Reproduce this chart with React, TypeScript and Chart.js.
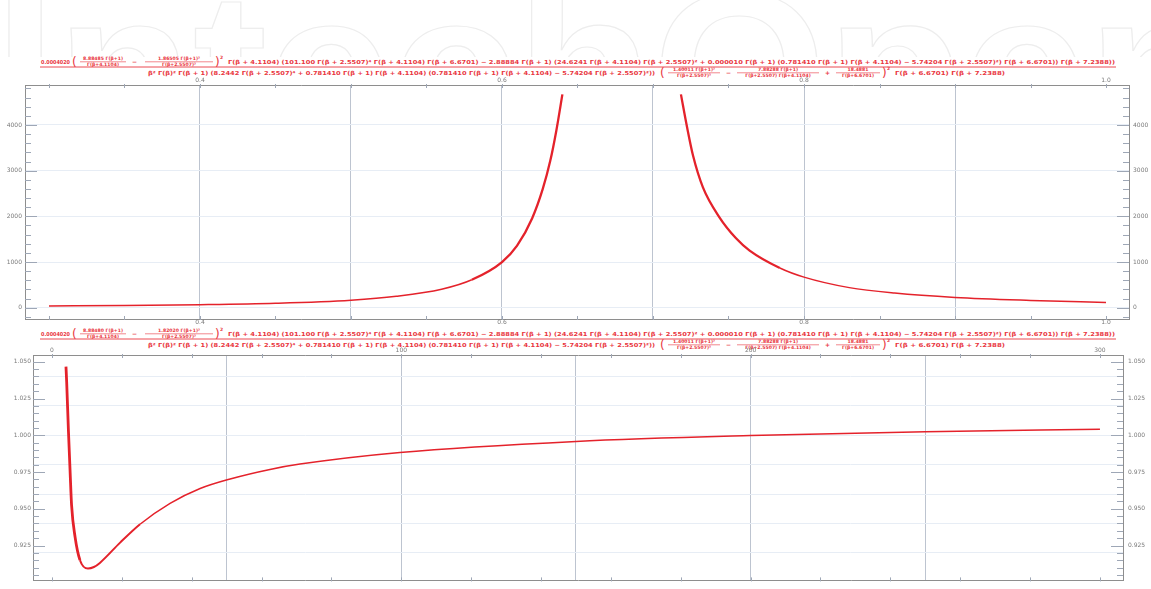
import React, { useEffect, useRef } from "react";
import { Chart, registerables } from "chart.js";

Chart.register(...registerables);

const W = 1151;
const H = 589;

// ---------------- Top plot data ----------------
const topLeftX = [0.30, 0.35, 0.40, 0.45, 0.50, 0.53, 0.56, 0.58, 0.60, 0.61, 0.62, 0.627, 0.632, 0.636, 0.640];
const topLeftY = [38, 48, 66, 98, 165, 250, 405, 612, 1000, 1360, 1960, 2600, 3220, 3880, 4670];
const topRightX = [0.7185, 0.7225, 0.7265, 0.733, 0.744, 0.755, 0.764, 0.784, 0.80, 0.83, 0.86, 0.90, 0.95, 1.00];
const topRightY = [4670, 3960, 3330, 2640, 1980, 1520, 1250, 870, 670, 440, 320, 225, 160, 115];

const TOP_X_LABELS = [0.4, 0.6, 0.8, 1.0];
const TOP_X_GRID = [0.4, 0.5, 0.6, 0.7, 0.8, 0.9];
const TOP_X_MARKS = [0.3, 0.35, 0.4, 0.45, 0.5, 0.55, 0.6, 0.65, 0.7, 0.75, 0.8, 0.85, 0.9, 0.95, 1.0];
const TOP_Y_LABELS = [0, 1000, 2000, 3000, 4000];
const TOP_Y_MINOR = [-200, 200, 400, 600, 800, 1200, 1400, 1600, 1800, 2200, 2400, 2600, 2800, 3200, 3400, 3600, 3800, 4200, 4400, 4600, 4800];

// ---------------- Bottom plot data ----------------
const botX = [4.0, 4.2, 4.7, 5.2, 5.6, 6.6, 8.0, 10.3, 12.0, 13.7, 19.5, 25.2, 33.8, 42.4, 51.0, 62.4, 71.0, 99.6, 150, 200, 250, 300];
const botY = [1.0467, 1.0362, 1.0033, 0.9743, 0.9526, 0.9309, 0.9151, 0.9094, 0.9104, 0.9132, 0.9270, 0.9395, 0.9537, 0.9638, 0.9703, 0.9768, 0.9804, 0.9883, 0.9958, 0.9998, 1.0024, 1.0041];

const BOT_X_LABELS = [0, 100, 200, 300];
const BOT_X_GRID = [50, 100, 150, 200, 250];
const BOT_X_MARKS = [0, 20, 40, 60, 80, 100, 120, 140, 160, 180, 200, 220, 240, 260, 280, 300];
const BOT_Y_LABELS = [0.925, 0.95, 0.975, 1.0, 1.025, 1.05];
const BOT_Y_GRID = [0.92, 0.94, 0.96, 0.98, 1.0, 1.02, 1.04];
const BOT_Y_MINOR = [0.905, 0.91, 0.915, 0.92, 0.93, 0.935, 0.94, 0.945, 0.955, 0.96, 0.965, 0.97, 0.98, 0.985, 0.99, 0.995, 1.005, 1.01, 1.015, 1.02, 1.03, 1.035, 1.04, 1.045];

// ---------------- Formula texts ----------------
const WATERMARK = "IntechOpen";

const TOP_NUM_COEF = "0.0004020";
const TOP_NUM_FRACS = [
  ["8.88485 Γ(β+1)", "Γ(β+4.1104)"],
  ["1.86505 Γ(β+1)²", "Γ(β+2.5507)²"],
];
const TOP_NUM_REST =
  "Γ(β + 4.1104) (101.100 Γ(β + 2.5507)⁴ Γ(β + 4.1104) Γ(β + 6.6701) − 2.88884 Γ(β + 1) (24.6241 Γ(β + 4.1104) Γ(β + 2.5507)² + 0.000010 Γ(β + 1) (0.781410 Γ(β + 1) Γ(β + 4.1104) − 5.74204 Γ(β + 2.5507)²) Γ(β + 6.6701)) Γ(β + 7.2388))";
const TOP_DEN_HEAD =
  "β² Γ(β)² Γ(β + 1) (8.2442 Γ(β + 2.5507)⁴ + 0.781410 Γ(β + 1) Γ(β + 4.1104) (0.781410 Γ(β + 1) Γ(β + 4.1104) − 5.74204 Γ(β + 2.5507)²))";
const TOP_DEN_FRACS = [
  ["1.40011 Γ(β+1)²", "Γ(β+2.5507)³"],
  ["7.88288 Γ(β+1)", "Γ(β+2.5507) Γ(β+4.1104)"],
  ["18.4881", "Γ(β+6.6701)"],
];
const TOP_DEN_TAIL = "Γ(β + 6.6701) Γ(β + 7.2388)";

const BOT_NUM_COEF = "0.0004020";
const BOT_NUM_FRACS = [
  ["8.88480 Γ(β+1)", "Γ(β+4.1104)"],
  ["1.82020 Γ(β+1)²", "Γ(β+2.5507)²"],
];
const BOT_NUM_REST =
  "Γ(β + 4.1104) (101.100 Γ(β + 2.5507)⁴ Γ(β + 4.1104) Γ(β + 6.6701) − 2.88884 Γ(β + 1) (24.6241 Γ(β + 4.1104) Γ(β + 2.5507)² + 0.000010 Γ(β + 1) (0.781410 Γ(β + 1) Γ(β + 4.1104) − 5.74204 Γ(β + 2.5507)²) Γ(β + 6.6701)) Γ(β + 7.2388))";
const BOT_DEN_HEAD =
  "β² Γ(β)² Γ(β + 1) (8.2442 Γ(β + 2.5507)⁴ + 0.781410 Γ(β + 1) Γ(β + 4.1104) (0.781410 Γ(β + 1) Γ(β + 4.1104) − 5.74204 Γ(β + 2.5507)²))";
const BOT_DEN_FRACS = [
  ["1.40011 Γ(β+1)²", "Γ(β+2.5507)³"],
  ["7.88288 Γ(β+1)", "Γ(β+2.5507) Γ(β+4.1104)"],
  ["18.4881", "Γ(β+6.6701)"],
];
const BOT_DEN_TAIL = "Γ(β + 6.6701) Γ(β + 7.2388)";

// ---------------- Styles ----------------
const RED = "#e4222b";
const TEXT_RED = "#e9363e";
const FRAME = "#8e8e8e";
const V_GRID = "#bdc4d0";
const H_GRID = "#e7edf5";
const TICK = "#9ea7b6";
const LABEL = "#7a7a7a";
const FONT = { family: "'DejaVu Sans', sans-serif", size: 6 };

const innerTicks = {
  id: "innerTicks",
  afterDraw(chart: any, _a: any, o: any) {
    const { ctx, chartArea: a } = chart;
    const sx = chart.scales.x;
    const sy = chart.scales.y;
    ctx.save();
    ctx.strokeStyle = o.color;
    ctx.lineWidth = 1;
    ctx.beginPath();
    (o.xMarks as number[]).forEach((v) => {
      const px = Math.round(sx.getPixelForValue(v)) + 0.5;
      ctx.moveTo(px, a.top - 1);
      ctx.lineTo(px, a.top + o.xLen);
      ctx.moveTo(px, a.bottom + 1);
      ctx.lineTo(px, a.bottom - o.xLen);
    });
    const h = (v: number, len: number) => {
      const py = Math.round(sy.getPixelForValue(v)) + 0.5;
      ctx.moveTo(a.left, py);
      ctx.lineTo(a.left + len, py);
      ctx.moveTo(a.right, py);
      ctx.lineTo(a.right - len, py);
    };
    (o.yMajor as number[]).forEach((v) => h(v, o.majorLen));
    (o.yMinor as number[]).forEach((v) => h(v, o.minorLen));
    ctx.stroke();
    ctx.restore();
  },
};

const tickObjs = (vals: number[]) => vals.map((v) => ({ value: v }));
const has = (arr: number[], v: any) => arr.some((a) => Math.abs(a - Number(v)) < 1e-9);

type PanelProps = {
  top: number;
  height: number;
  datasets: any[];
  xMin: number;
  xMax: number;
  yMin: number;
  yMax: number;
  leftW: number;
  rightW: number;
  topH: number;
  bottomH: number;
  leftPad: number;
  rightPad: number;
  xLabels: number[];
  xGrid: number[];
  xMarks: number[];
  showBottomLabels: boolean;
  yLabels: number[];
  yGrid: number[];
  yMinor: number[];
  xFmt: (v: number) => string;
  yFmt: (v: number) => string;
};

function Panel(p: PanelProps) {
  const ref = useRef<HTMLCanvasElement>(null);
  useEffect(() => {
    const xBottomTicks = Array.from(
      new Set([...p.xGrid, ...(p.showBottomLabels ? p.xLabels : [])])
    ).sort((a, b) => a - b);
    const border = { display: true, color: FRAME, width: 1 };
    const chart = new Chart(ref.current as HTMLCanvasElement, {
      type: "line",
      data: { datasets: p.datasets },
      options: {
        animation: false,
        responsive: false,
        events: [],
        layout: { padding: 0 },
        plugins: {
          legend: { display: false },
          tooltip: { enabled: false },
          innerTicks: {
            color: TICK,
            xMarks: p.xMarks,
            xLen: 3,
            yMajor: p.yLabels,
            yMinor: p.yMinor,
            majorLen: 12,
            minorLen: 6,
          },
        } as any,
        scales: {
          x: {
            type: "linear",
            position: "bottom",
            min: p.xMin,
            max: p.xMax,
            afterBuildTicks: (s: any) => {
              s.ticks = tickObjs(xBottomTicks);
            },
            afterFit: (s: any) => {
              s.height = p.bottomH;
            },
            grid: {
              color: (c: any) => (c.tick && has(p.xGrid, c.tick.value) ? V_GRID : "rgba(0,0,0,0)"),
              drawTicks: false,
              lineWidth: 1,
            },
            border,
            ticks: {
              display: p.showBottomLabels,
              autoSkip: false,
              maxRotation: 0,
              padding: 0,
              font: FONT,
              color: LABEL,
              callback: (v: any) => (has(p.xLabels, v) ? p.xFmt(Number(v)) : ""),
            },
          },
          xTop: {
            type: "linear",
            position: "top",
            min: p.xMin,
            max: p.xMax,
            afterBuildTicks: (s: any) => {
              s.ticks = tickObjs(p.xLabels);
            },
            afterFit: (s: any) => {
              s.height = p.topH;
            },
            grid: { drawOnChartArea: false, drawTicks: false },
            border,
            ticks: {
              autoSkip: false,
              maxRotation: 0,
              padding: 1,
              font: FONT,
              color: LABEL,
              callback: (v: any) => p.xFmt(Number(v)),
            },
          },
          y: {
            type: "linear",
            position: "left",
            min: p.yMin,
            max: p.yMax,
            afterBuildTicks: (s: any) => {
              s.ticks = tickObjs(p.yLabels);
            },
            afterFit: (s: any) => {
              s.width = p.leftW;
            },
            grid: { drawOnChartArea: false, drawTicks: false },
            border,
            ticks: {
              autoSkip: false,
              padding: p.leftPad,
              font: FONT,
              color: LABEL,
              callback: (v: any) => p.yFmt(Number(v)),
            },
          },
          yGrid: {
            type: "linear",
            position: "left",
            min: p.yMin,
            max: p.yMax,
            afterBuildTicks: (s: any) => {
              s.ticks = tickObjs(p.yGrid);
            },
            afterFit: (s: any) => {
              s.width = 0;
            },
            grid: { color: H_GRID, drawTicks: false, lineWidth: 1 },
            border: { display: false },
            ticks: { display: false },
          },
          yRight: {
            type: "linear",
            position: "right",
            min: p.yMin,
            max: p.yMax,
            afterBuildTicks: (s: any) => {
              s.ticks = tickObjs(p.yLabels);
            },
            afterFit: (s: any) => {
              s.width = p.rightW;
            },
            grid: { drawOnChartArea: false, drawTicks: false },
            border,
            ticks: {
              autoSkip: false,
              padding: p.rightPad,
              font: FONT,
              color: LABEL,
              callback: (v: any) => p.yFmt(Number(v)),
            },
          },
        } as any,
      },
      plugins: [innerTicks as any],
    });
    return () => chart.destroy();
  }, []);
  return (
    <canvas
      ref={ref}
      width={W}
      height={p.height}
      style={{ position: "absolute", left: 0, top: p.top, width: W, height: p.height }}
    />
  );
}

const pts = (xs: number[], ys: number[]) => xs.map((x, i) => ({ x, y: ys[i] }));

const topDatasets = [
  {
    data: pts(topLeftX, topLeftY),
    xAxisID: "x",
    yAxisID: "y",
    borderColor: RED,
    borderWidth: 1.6,
    pointRadius: 0,
    cubicInterpolationMode: "monotone",
    fill: false,
    segment: { borderWidth: (c: any) => (c.p1.parsed.y > 900 ? 2.3 : 1.5) },
  },
  {
    data: pts(topRightX, topRightY),
    xAxisID: "x",
    yAxisID: "y",
    borderColor: RED,
    borderWidth: 1.6,
    pointRadius: 0,
    cubicInterpolationMode: "monotone",
    fill: false,
    segment: { borderWidth: (c: any) => (c.p0.parsed.y > 900 ? 2.3 : 1.5) },
  },
];

const botDatasets = [
  {
    data: pts(botX, botY),
    xAxisID: "x",
    yAxisID: "y",
    borderColor: RED,
    borderWidth: 1.6,
    pointRadius: 0,
    cubicInterpolationMode: "monotone",
    fill: false,
    segment: { borderWidth: (c: any) => (c.p0.parsed.x < 7 ? 2.8 : c.p0.parsed.x < 20 ? 2.0 : 1.5) },
  },
];

// ---------------- Formula (SVG text) ----------------
function Txt({ x, y, w, s = 5.5, children }: any) {
  return (
    <text x={x} y={y} fontSize={s} textLength={w} lengthAdjust="spacingAndGlyphs" dominantBaseline="central">
      {children}
    </text>
  );
}

function Frac({ x, w, y, top, bot }: any) {
  const cx = x + w / 2;
  return (
    <g>
      <text x={cx} y={y - 3.0} fontSize={4.6} textAnchor="middle" dominantBaseline="central">
        {top}
      </text>
      <line x1={x} x2={x + w} y1={y + 0.3} y2={y + 0.3} stroke={TEXT_RED} strokeWidth={0.6} />
      <text x={cx} y={y + 3.4} fontSize={4.6} textAnchor="middle" dominantBaseline="central">
        {bot}
      </text>
    </g>
  );
}

function Formula({ dy, coef, numFracs, numRest, denHead, denFracs, denTail }: any) {
  const yN = dy + 61.5;
  const yB = dy + 67;
  const yD = dy + 72.5;
  return (
    <g fill={TEXT_RED} fontFamily="'DejaVu Sans', sans-serif" fontWeight="bold">
      <Txt x={41} y={yN} w={29}>
        {coef}
      </Txt>
      <text x={72} y={yN} fontSize={12} dominantBaseline="central" fontWeight="normal">
        (
      </text>
      <Frac x={80} w={46} y={yN} top={numFracs[0][0]} bot={numFracs[0][1]} />
      <text x={132} y={yN} fontSize={6} dominantBaseline="central">
        −
      </text>
      <Frac x={145} w={68} y={yN} top={numFracs[1][0]} bot={numFracs[1][1]} />
      <text x={215} y={yN} fontSize={12} dominantBaseline="central" fontWeight="normal">
        )
      </text>
      <text x={220} y={yN - 4.5} fontSize={4.5} dominantBaseline="central">
        2
      </text>
      <Txt x={228} y={yN} w={887}>
        {numRest}
      </Txt>
      <line x1={40} x2={1116} y1={yB} y2={yB} stroke={TEXT_RED} strokeWidth={0.9} />
      <Txt x={148} y={yD} w={507}>
        {denHead}
      </Txt>
      <text x={660} y={yD} fontSize={12} dominantBaseline="central" fontWeight="normal">
        (
      </text>
      <Frac x={668} w={52} y={yD} top={denFracs[0][0]} bot={denFracs[0][1]} />
      <text x={726} y={yD} fontSize={6} dominantBaseline="central">
        −
      </text>
      <Frac x={737} w={82} y={yD} top={denFracs[1][0]} bot={denFracs[1][1]} />
      <text x={825} y={yD} fontSize={6} dominantBaseline="central">
        +
      </text>
      <Frac x={836} w={44} y={yD} top={denFracs[2][0]} bot={denFracs[2][1]} />
      <text x={882} y={yD} fontSize={12} dominantBaseline="central" fontWeight="normal">
        )
      </text>
      <text x={887} y={yD - 4.5} fontSize={4.5} dominantBaseline="central">
        2
      </text>
      <Txt x={895} y={yD} w={110}>
        {denTail}
      </Txt>
    </g>
  );
}

export default function App() {
  return (
    <div
      style={{
        position: "fixed",
        left: 0,
        top: 0,
        width: W,
        height: H,
        background: "#ffffff",
        overflow: "hidden",
      }}
    >
      <svg width={W} height={H} style={{ position: "absolute", left: 0, top: 0 }}>
        <defs>
          <clipPath id="wmclip">
            <rect x={0} y={0} width={W} height={57} />
          </clipPath>
        </defs>
        <g clipPath="url(#wmclip)">
          <text
            x={-6}
            y={140}
            fontSize={212}
            fontFamily="'Liberation Sans', Arial, sans-serif"
            fontWeight="bold"
            textLength={1230}
            lengthAdjust="spacingAndGlyphs"
            fill="none"
            stroke="#ededed"
            strokeWidth={1.2}
          >
            {WATERMARK}
          </text>
        </g>
        <Formula
          dy={0}
          coef={TOP_NUM_COEF}
          numFracs={TOP_NUM_FRACS}
          numRest={TOP_NUM_REST}
          denHead={TOP_DEN_HEAD}
          denFracs={TOP_DEN_FRACS}
          denTail={TOP_DEN_TAIL}
        />
        <Formula
          dy={272}
          coef={BOT_NUM_COEF}
          numFracs={BOT_NUM_FRACS}
          numRest={BOT_NUM_REST}
          denHead={BOT_DEN_HEAD}
          denFracs={BOT_DEN_FRACS}
          denTail={BOT_DEN_TAIL}
        />
      </svg>
      <Panel
        top={75}
        height={255}
        datasets={topDatasets}
        xMin={0.28411}
        xMax={1.01523}
        yMin={-247}
        yMax={4875}
        leftW={25}
        rightW={22}
        topH={10}
        bottomH={11}
        leftPad={3}
        rightPad={4}
        xLabels={TOP_X_LABELS}
        xGrid={TOP_X_GRID}
        xMarks={TOP_X_MARKS}
        showBottomLabels={true}
        yLabels={TOP_Y_LABELS}
        yGrid={TOP_Y_LABELS}
        yMinor={TOP_Y_MINOR}
        xFmt={(v) => v.toFixed(1)}
        yFmt={(v) => String(Math.round(v))}
      />
      <Panel
        top={345}
        height={244}
        datasets={botDatasets}
        xMin={-5.44}
        xMax={306.6}
        yMin={0.9013}
        yMax={1.0546}
        leftW={33}
        rightW={28}
        topH={10}
        bottomH={1}
        leftPad={2}
        rightPad={5}
        xLabels={BOT_X_LABELS}
        xGrid={BOT_X_GRID}
        xMarks={BOT_X_MARKS}
        showBottomLabels={false}
        yLabels={BOT_Y_LABELS}
        yGrid={BOT_Y_GRID}
        yMinor={BOT_Y_MINOR}
        xFmt={(v) => String(Math.round(v))}
        yFmt={(v) => v.toFixed(3)}
      />
    </div>
  );
}
